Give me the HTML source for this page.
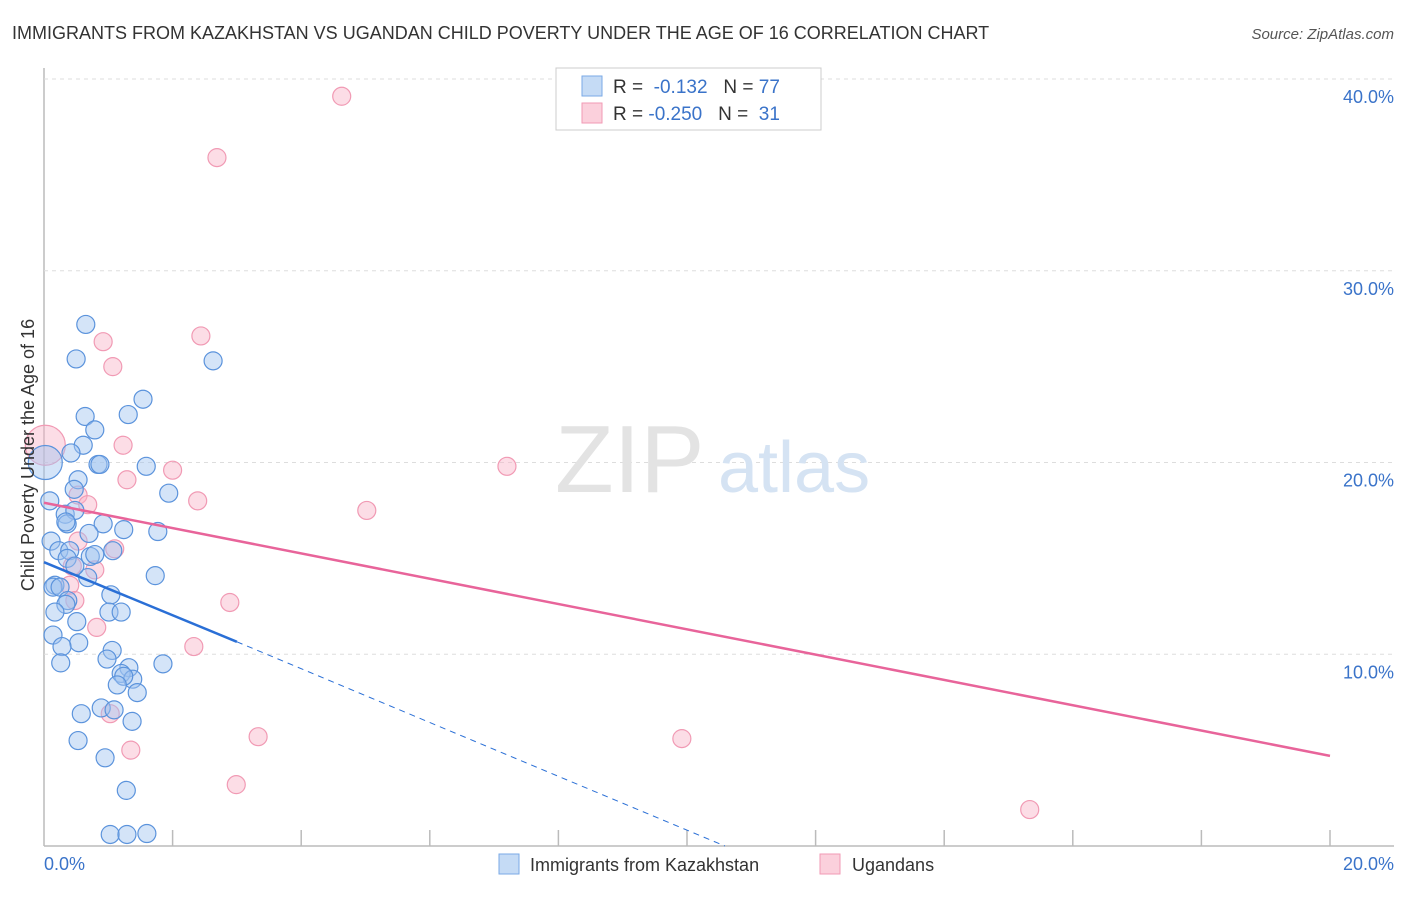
<!DOCTYPE html>
<html><head><meta charset="utf-8"><style>
body{margin:0;background:#fff;font-family:"Liberation Sans",sans-serif}
svg text{font-family:"Liberation Sans",sans-serif}
</style></head><body>
<svg width="1406" height="892" xmlns="http://www.w3.org/2000/svg">
<text x="12" y="39" font-size="18" fill="#333">IMMIGRANTS FROM KAZAKHSTAN VS UGANDAN CHILD POVERTY UNDER THE AGE OF 16 CORRELATION CHART</text>
<text x="1394" y="39" font-size="15" fill="#555" font-style="italic" text-anchor="end">Source: ZipAtlas.com</text>
<g id="grid"></g>
<text x="555" y="492" font-size="96" fill="#e3e3e3" font-family="Liberation Serif">ZIP</text>
<text x="718" y="492" font-size="72" fill="#d5e3f3">atlas</text>
<g id="pts"></g>
<g id="lines"></g>
<text transform="translate(34,455) rotate(-90)" font-size="18" fill="#333" text-anchor="middle">Child Poverty Under the Age of 16</text>
<text x="44" y="870" font-size="18" fill="#3a73c9">0.0%</text>
<text x="1394" y="870" font-size="18" fill="#3a73c9" text-anchor="end">20.0%</text>
<g>
<rect x="556" y="68" width="265" height="62" fill="#fff" stroke="#ccc"/>
<rect x="582" y="76" width="20" height="20" fill="#c5dbf5" stroke="#7aaae6"/>
<rect x="582" y="103" width="20" height="20" fill="#fbd0dc" stroke="#f19ab4"/>
<text x="613" y="93" font-size="19" fill="#333">R = <tspan fill="#3a73c9">&#160;-0.132</tspan>&#160;&#160;&#160;N = <tspan fill="#3a73c9">77</tspan></text>
<text x="613" y="120" font-size="19" fill="#333">R = <tspan fill="#3a73c9">-0.250</tspan>&#160;&#160;&#160;N = <tspan fill="#3a73c9">&#160;31</tspan></text>
</g>
<g>
<rect x="499" y="854" width="20" height="20" fill="#c5dbf5" stroke="#7aaae6"/>
<text x="530" y="871" font-size="18" fill="#333">Immigrants from Kazakhstan</text>
<rect x="820" y="854" width="20" height="20" fill="#fbd0dc" stroke="#f19ab4"/>
<text x="852" y="871" font-size="18" fill="#333">Ugandans</text>
</g>
</svg>
<script>
const yTicks=[10,20,30,40];
const yTickLabels=["10.0%","20.0%","30.0%","40.0%"];
const blueX=[0.65,0.5,2.63,1.54,0.64,1.31,0.79,0.61,0.42,0.84,0.87,1.59,0.02,0.53,1.94,0.47,0.09,0.33,0.48,0.36,0.34,0.92,1.24,0.7,1.77,0.11,0.23,0.4,0.72,0.79,1.07,0.36,1.73,0.68,0.48,0.17,0.14,0.25,1.04,0.37,0.34,0.17,1.01,1.2,0.51,0.14,0.54,0.28,1.06,0.98,0.26,1.85,1.32,1.2,1.38,1.24,1.45,1.14,0.89,1.09,0.58,1.37,0.53,0.95,1.28,1.03,1.29,1.6];
const blueY=[27.2,25.4,25.3,23.3,22.4,22.5,21.7,20.9,20.5,19.9,19.9,19.8,20.0,19.1,18.4,18.6,18.0,17.3,17.5,16.8,16.9,16.8,16.5,16.3,16.4,15.9,15.4,15.4,15.1,15.2,15.4,15.0,14.1,14.0,14.6,13.6,13.5,13.5,13.1,12.8,12.6,12.2,12.2,12.2,11.7,11.0,10.6,10.4,10.2,9.75,9.55,9.5,9.3,9.0,8.7,8.85,8.0,8.4,7.2,7.1,6.9,6.5,5.5,4.6,2.9,0.6,0.6,0.65];
const pinkX=[4.63,2.69,2.44,0.92,1.07,0.02,1.23,2.0,7.2,1.29,0.53,2.39,0.68,5.02,1.1,0.53,0.44,0.79,0.4,0.48,0.82,2.89,2.33,1.03,3.33,1.35,9.92,2.99,15.33];
const pinkY=[39.1,35.9,26.6,26.3,25.0,20.9,20.9,19.6,19.8,19.1,18.3,18.0,17.8,17.5,15.5,15.9,14.6,14.4,13.6,12.8,11.4,12.7,10.4,6.9,5.7,5.0,5.6,3.2,1.9];
const blueTrend=[[0,14.8],[3.0,10.65]];
const blueDash=[[3.0,10.65],[10.59,0]];
const pinkTrend=[[0,17.9],[20,4.7]];
const NS="http://www.w3.org/2000/svg";
const X=v=>44+v/20*1286, Y=v=>846-v*19.175;
const grid=document.getElementById('grid');
function mk(t,a,p){const e=document.createElementNS(NS,t);for(const k in a)e.setAttribute(k,a[k]);p.appendChild(e);return e;}
let ax=mk('line',{x1:44,y1:68,x2:44,y2:846,stroke:'#bbb','stroke-width':1.5},grid);


let bx=mk('line',{x1:44,y1:846,x2:1394,y2:846,stroke:'#bbb','stroke-width':1.5},grid);


for(let i=1;i<=10;i++){let t=mk('line',{x1:44+i*128.6,y1:830,x2:44+i*128.6,y2:846,stroke:'#bbb','stroke-width':1.5},grid);

}
yTicks.forEach((v,i)=>{let g=mk('line',{x1:44,y1:Y(v),x2:1394,y2:Y(v),stroke:'#ddd','stroke-dasharray':'4,4'},grid);


let t=mk('text',{x:1394,y:Y(v)+24,'font-size':18,fill:'#3a73c9','text-anchor':'end'},grid);t.textContent=yTickLabels[i];

});
const pts=document.getElementById('pts');
pinkX.forEach((x,i)=>{let r=i===5?20:9;let c=mk('circle',{cx:X(x),cy:Y(pinkY[i]),r:r,fill:'rgba(248,180,200,0.45)',stroke:'#f19ab4','stroke-width':1.2},pts);

});
blueX.forEach((x,i)=>{let r=i===12?17:9;let c=mk('circle',{cx:X(x),cy:Y(blueY[i]),r:r,fill:'rgba(160,195,240,0.45)',stroke:'#5b93dc','stroke-width':1.2},pts);

});
const L=document.getElementById('lines');
let l1=mk('line',{x1:X(pinkTrend[0][0]),y1:Y(pinkTrend[0][1]),x2:X(pinkTrend[1][0]),y2:Y(pinkTrend[1][1]),stroke:'#e8649a','stroke-width':2.5},L);


let l2=mk('line',{x1:X(blueTrend[0][0]),y1:Y(blueTrend[0][1]),x2:X(blueTrend[1][0]),y2:Y(blueTrend[1][1]),stroke:'#2a6fd6','stroke-width':2.5},L);


let l3=mk('line',{x1:X(blueDash[0][0]),y1:Y(blueDash[0][1]),x2:X(blueDash[1][0]),y2:Y(blueDash[1][1]),stroke:'#2a6fd6','stroke-width':1,'stroke-dasharray':'6,5'},L);


</script>
</body></html>
